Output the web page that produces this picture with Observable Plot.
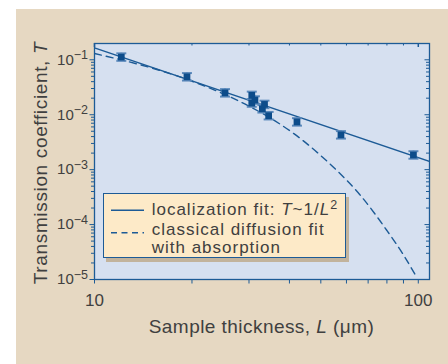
<!DOCTYPE html>
<html>
<head>
<meta charset="utf-8">
<script src="https://cdn.jsdelivr.net/npm/d3@7"></script>
<script src="https://cdn.jsdelivr.net/npm/@observablehq/plot@0.6"></script>
<style>
  html, body { margin: 0; padding: 0; background: #ffffff; }
  #wrap { position: relative; width: 448px; height: 364px; overflow: hidden; background: #ffffff; font-family: "Liberation Sans", Arial, sans-serif; }
  #panel { position: absolute; left: 16px; top: 9px; right: 0; bottom: 0; background: #e6d8c2; }
  #chart { position: absolute; left: 0; top: 0; }
  #legend { position: absolute; left: 103px; top: 193px; width: 241px; height: 63px; border: 1px solid #1d5b96; background: #fdeac8; box-shadow: 3px 4px 0 #c2b39c; }
</style>
</head>
<body>
<div id="wrap">
  <div id="panel"></div>
  <div id="chart"></div>
  <div id="legend"></div>
</div>
<script>
// ---- data ----
const sampleL = [12.1, 19.3, 25.3, 30.6, 30.6, 31.3, 33.0, 33.5, 34.5, 42.2, 57.7, 96.6];
const transT  = [0.112, 0.049, 0.025, 0.0225, 0.0163, 0.0185, 0.0128, 0.0154, 0.0096, 0.0074, 0.0043, 0.00185];
const relErr  = [0.17, 0.17, 0.17, 0.17, 0.17, 0.17, 0.17, 0.17, 0.17, 0.17, 0.17, 0.17];

// localization fit T ~ 1/L^2 (straight line in log-log)
const locL = [10, 108.3];
const locT = [0.165, 0.00141];

// classical diffusion fit with absorption (dashed)
const difL = [10, 12, 15, 19, 25, 30, 36, 42, 50, 56, 66, 80, 90, 99.3];
const difT = [0.130, 0.101, 0.071, 0.0455, 0.024, 0.0143, 0.0078, 0.0042, 0.0018, 0.00097, 0.00035, 0.000078, 0.000028, 0.0000105];

// ticks
const xMajor = [10, 100];
const xMinor = [20, 30, 40, 50, 60, 70, 80, 90];
const yMajor = [1e-1, 1e-2, 1e-3, 1e-4, 1e-5];
const yMinor = [];
for (let e = -5; e <= -2; e++) for (let k = 2; k <= 9; k++) yMinor.push(k * Math.pow(10, e));

const xLabel = ["Sample thickness, ", "L", " (\u03bcm)"];
const yLabel = ["Transmission coefficient, ", "T"];

// ---- layout ----
const W = 448, H = 364;
const mL = 94, mR = 19, mT = 43, mB = 85;
const pw = W - mL - mR, ph = H - mT - mB;
const blue = "#1d5b96", dark = "#0d4c8a", cap = "#5b89bb", textCol = "#404040";
const FONT = "Liberation Sans, Arial, sans-serif";

const points = sampleL.map((L, i) => ({L, T: transT[i], lo: transT[i] / (1 + relErr[i]), hi: transT[i] * (1 + relErr[i])}));
const loc = locL.map((L, i) => ({L, T: locT[i]}));
const dif = difL.map((L, i) => ({L, T: difT[i]}));

const capSymbol = { draw(ctx, size) { ctx.moveTo(-5, 0); ctx.lineTo(5, 0); } };

const chart = Plot.plot({
  width: W, height: H,
  marginLeft: mL, marginRight: mR, marginTop: mT, marginBottom: mB,
  style: { background: "transparent", fontFamily: FONT, overflow: "visible" },
  x: { type: "log", domain: [10, 108.3] },
  y: { type: "log", domain: [1e-5, 0.198] },
  marks: [
    Plot.frame({ fill: "#d6e0f0", stroke: null }),
    // left / bottom outward ticks with labels
    Plot.axisY(yMajor, { tickSize: 4.5, tickPadding: 2, fontSize: 15, stroke: blue, fill: textCol, label: null,
      tickFormat: d => "10|" + Math.round(Math.log10(d)) }),
    Plot.axisY(yMinor, { tickSize: 3, stroke: blue, label: null, tickFormat: () => "" }),
    Plot.axisX(xMajor, { tickSize: 4.5, tickPadding: 9.5, fontSize: 17, stroke: blue, fill: textCol, label: null,
      tickFormat: d => String(d) }),
    Plot.axisX(xMinor, { tickSize: 4.5, stroke: blue, label: null, tickFormat: () => "" }),
    // right / top inward ticks
    Plot.tickY(yMajor, { y: d => d, stroke: blue, insetLeft: pw - 4.5 }),
    Plot.tickY(yMinor, { y: d => d, stroke: blue, insetLeft: pw - 3 }),
    Plot.tickX(xMajor, { x: d => d, stroke: blue, strokeWidth: 1.5, insetBottom: ph - 4 }),
    Plot.tickX(xMinor, { x: d => d, stroke: blue, insetBottom: ph - 2.5 }),
    // fits
    Plot.line(dif, { x: "L", y: "T", stroke: blue, strokeWidth: 1.4, strokeDasharray: "7,5", curve: "monotone-x", clip: true }),
    Plot.line(loc, { x: "L", y: "T", stroke: blue, strokeWidth: 1.5, clip: true }),
    // error bars
    Plot.ruleX(points, { x: "L", y1: "lo", y2: "hi", stroke: dark, strokeWidth: 1.8 }),
    Plot.dot(points, { x: "L", y: "lo", symbol: capSymbol, r: 5, fill: "none", stroke: cap, strokeWidth: 2 }),
    Plot.dot(points, { x: "L", y: "hi", symbol: capSymbol, r: 5, fill: "none", stroke: cap, strokeWidth: 2 }),
    Plot.dot(points, { x: "L", y: "T", symbol: "square", r: 3.8, fill: dark, stroke: null }),
    Plot.frame({ stroke: blue, strokeWidth: 1.3 })
  ]
});
document.getElementById("chart").appendChild(chart);

const svg = d3.select(chart);
// superscript tick labels
svg.selectAll("text").each(function () {
  const t = this.textContent;
  if (t.includes("|")) {
    const [base, exp] = t.split("|");
    const el = d3.select(this);
    el.text(base);
    el.append("tspan").attr("dy", "-0.42em").attr("font-size", 12.5).text("\u2212" + Math.abs(+exp));
  }
});
// axis titles
const xt = svg.append("text").attr("x", mL + pw / 2).attr("y", 332.7).attr("text-anchor", "middle")
  .attr("font-size", 19).attr("letter-spacing", "0.45px").attr("fill", textCol);
xt.append("tspan").text(xLabel[0]);
xt.append("tspan").attr("font-style", "italic").text(xLabel[1]);
xt.append("tspan").text(xLabel[2]);
const yt = svg.append("text").attr("transform", "translate(47,163) rotate(-90)").attr("text-anchor", "middle")
  .attr("font-size", 19).attr("letter-spacing", "0.65px").attr("fill", textCol);
yt.append("tspan").text(yLabel[0]);
yt.append("tspan").attr("font-style", "italic").text(yLabel[1]);

// legend
const lg = d3.select("#legend").append("svg").attr("width", 241).attr("height", 63).style("display", "block");
lg.append("line").attr("x1", 7).attr("x2", 40).attr("y1", 16.3).attr("y2", 16.3).attr("stroke", blue).attr("stroke-width", 1.5);
lg.append("line").attr("x1", 7).attr("x2", 40).attr("y1", 38.8).attr("y2", 38.8).attr("stroke", blue).attr("stroke-width", 1.4).attr("stroke-dasharray", "6,4.5");
const legText = (y) => lg.append("text").attr("x", 47.7).attr("y", y).attr("font-size", 17).attr("letter-spacing", "1px")
  .attr("fill", textCol).attr("font-family", FONT);
const l1 = legText(21);
l1.append("tspan").text("localization fit: ");
l1.append("tspan").attr("font-style", "italic").text("T");
l1.append("tspan").text("~1/");
l1.append("tspan").attr("font-style", "italic").text("L");
l1.append("tspan").attr("dy", "-0.45em").attr("font-size", 12.5).text("2");
legText(40.5).text("classical diffusion fit");
legText(59).text("with absorption");
</script>
</body>
</html>
